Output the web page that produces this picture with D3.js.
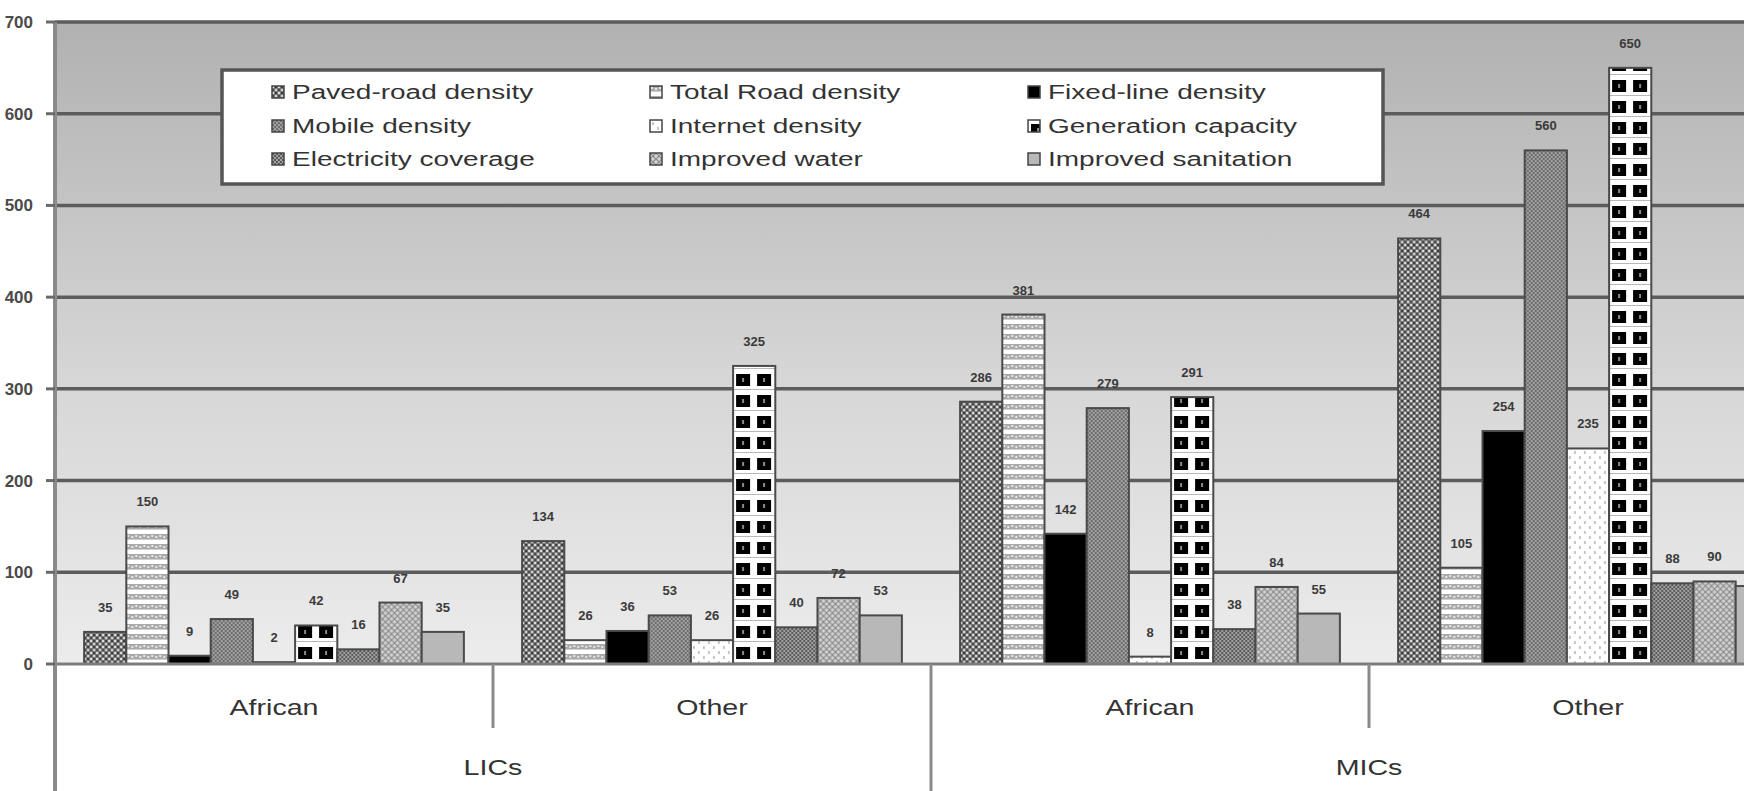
<!DOCTYPE html>
<html><head><meta charset="utf-8">
<script src="https://cdn.jsdelivr.net/npm/d3@7"></script>
<style>
html,body{margin:0;padding:0;background:#fff;overflow:hidden}
svg{display:block;font-family:"Liberation Sans",Arial,sans-serif}
</style>
</head><body>
<svg id="c" width="1744" height="791"></svg>
<script>
// ---------- data ----------
const subGroups = ["African", "Other", "African", "Other"];
const incomeGroups = ["LICs", "MICs"];
const seriesNames = [
  "Paved-road density", "Total Road density", "Fixed-line density",
  "Mobile density", "Internet density", "Generation capacity",
  "Electricity coverage", "Improved water", "Improved sanitation"
];
const licAfrican = [35, 150, 9, 49, 2, 42, 16, 67, 35];
const licOther   = [134, 26, 36, 53, 26, 325, 40, 72, 53];
const micAfrican = [286, 381, 142, 279, 8, 291, 38, 84, 55];
const micOther   = [464, 105, 254, 560, 235, 650, 88, 90, 85];
const yTicks = [0, 100, 200, 300, 400, 500, 600, 700];

const groupValues = [licAfrican, licOther, micAfrican, micOther];

// ---------- layout ----------
const W = 1744, H = 791;
const left = 55, groupW = 438;
const svg = d3.select("#c");
const defs = svg.append("defs");

const x0 = d3.scaleBand().domain(d3.range(subGroups.length))
  .range([left, left + groupW * subGroups.length]).padding(0);
const x1 = d3.scaleBand().domain(seriesNames)
  .range([0, x0.bandwidth()]).paddingInner(0).paddingOuter(0.69);
const y = d3.scaleLinear().domain([0, 700]).range([664, 22]);

// background gradient
const grad = defs.append("linearGradient").attr("id", "bg")
  .attr("x1", 0).attr("y1", 0).attr("x2", 0).attr("y2", 1);
grad.append("stop").attr("offset", "0%").attr("stop-color", "#b1b1b1");
grad.append("stop").attr("offset", "55%").attr("stop-color", "#d6d6d6");
grad.append("stop").attr("offset", "100%").attr("stop-color", "#ececec");

svg.append("rect").attr("x", left).attr("y", y(700))
  .attr("width", W - left).attr("height", y(0) - y(700))
  .attr("fill", "url(#bg)");

// patterns
function buildPattern(id, s, ox, oy) {
  const p = defs.append("pattern").attr("id", id)
    .attr("patternUnits", "userSpaceOnUse").attr("x", ox).attr("y", oy);
  const r = (x, yy, w, h, f) => p.append("rect").attr("x", x).attr("y", yy)
    .attr("width", w).attr("height", h).attr("fill", f);
  switch (s) {
    case 0: p.attr("width", 6).attr("height", 6);
      r(0,0,6,6,"#7a7a7a"); r(0,0,2,2,"#e2e2e2"); r(3,3,2,2,"#d4d4d4");
      r(3,0,2,2,"#3c3c3c"); r(0,3,2,2,"#4a4a4a"); break;
    case 1: p.attr("width", 8).attr("height", 10);
      r(0,0,8,10,"#ffffff"); r(0,0,8,5,"#a9a9a9");
      r(1,1,2,2,"#e6e6e6"); r(5,2,2,2,"#e6e6e6"); r(0,5,8,1,"#d0d0d0"); break;
    case 2: p.attr("width", 4).attr("height", 4); r(0,0,4,4,"#000"); break;
    case 3: p.attr("width", 4).attr("height", 4);
      r(0,0,4,4,"#a0a0a0"); r(0,0,2,2,"#6e6e6e"); r(2,2,2,2,"#6e6e6e"); break;
    case 4: p.attr("width", 10).attr("height", 10);
      r(0,0,10,10,"#ffffff"); r(2,2,2,3,"#c6c6c6"); r(7,7,2,3,"#c6c6c6"); break;
    case 5: p.attr("width", 21).attr("height", 21);
      r(0,0,21,21,"#ffffff"); r(3,4,14,12,"#000"); r(9,8,2,4,"#8a8a8a");
      r(0,19,21,1,"#b8b8b8"); break;
    case 6: p.attr("width", 4).attr("height", 4);
      r(0,0,4,4,"#a2a2a2"); r(0,0,2,2,"#5a5a5a"); r(2,2,2,2,"#5a5a5a"); break;
    case 7: p.attr("width", 6).attr("height", 6);
      r(0,0,6,6,"#d2d2d2");
      p.append("path").attr("d","M0,0L6,6M6,0L0,6").attr("stroke","#8a8a8a").attr("stroke-width",1.2); break;
    case 8: p.attr("width", 4).attr("height", 4); r(0,0,4,4,"#b8b8b8"); break;
  }
}

// gridlines
svg.append("g").selectAll("line").data(yTicks.filter(t => t > 0)).join("line")
  .attr("x1", left).attr("x2", W).attr("y1", d => y(d)).attr("y2", d => y(d))
  .attr("stroke", "#5c5c5c").attr("stroke-width", 3.5);

// bars
const bars = svg.append("g");
groupValues.forEach((vals, g) => {
  vals.forEach((v, i) => {
    const bx = x0(g) + x1(seriesNames[i]);
    const id = `pat-${g}-${i}`;
    buildPattern(id, i, bx, y(0));
    bars.append("rect")
      .attr("x", bx).attr("y", y(v))
      .attr("width", x1.bandwidth()).attr("height", y(0) - y(v))
      .attr("fill", `url(#${id})`)
      .attr("stroke", "#4a4a4a").attr("stroke-width", 2);
    const cx = bx + x1.bandwidth() / 2;
    if (cx + 14 < W) {
      bars.append("text")
        .attr("x", cx).attr("y", y(v) - 20)
        .attr("text-anchor", "middle").attr("font-size", 13).attr("font-weight", "bold")
        .attr("fill", "#3a3a3a").text(v);
    }
  });
});

// baseline
svg.append("line").attr("x1", left).attr("x2", W).attr("y1", y(0)).attr("y2", y(0))
  .attr("stroke", "#7c7c7c").attr("stroke-width", 3);

// y axis
svg.append("line").attr("x1", left).attr("x2", left).attr("y1", y(700)).attr("y2", H)
  .attr("stroke", "#8a8a8a").attr("stroke-width", 4);
svg.append("g").selectAll("line").data(yTicks).join("line")
  .attr("x1", left - 9).attr("x2", left).attr("y1", d => y(d)).attr("y2", d => y(d))
  .attr("stroke", "#6a6a6a").attr("stroke-width", 3);
svg.append("g").selectAll("text").data(yTicks).join("text")
  .attr("x", 33).attr("y", d => Math.max(y(d) + 6, 15)).attr("text-anchor", "end")
  .attr("font-size", 17).attr("font-weight", "bold").attr("fill", "#4a4a4a")
  .text(d => d);

// category axis separators
[1, 3].forEach(g => {
  svg.append("line").attr("x1", x0(g)).attr("x2", x0(g)).attr("y1", y(0)).attr("y2", 728)
    .attr("stroke", "#8a8a8a").attr("stroke-width", 3);
});
svg.append("line").attr("x1", x0(2)).attr("x2", x0(2)).attr("y1", y(0)).attr("y2", H)
  .attr("stroke", "#8a8a8a").attr("stroke-width", 3);

const sx = 1.3;
function stretchedText(cx, cy, txt, size) {
  svg.append("text")
    .attr("transform", `translate(${cx},${cy}) scale(${sx},1)`)
    .attr("text-anchor", "middle").attr("font-size", size).attr("fill", "#333")
    .text(txt);
}
subGroups.forEach((s, g) => stretchedText(x0(g) + x0.bandwidth() / 2, 715, s, 22));
incomeGroups.forEach((s, k) => stretchedText(x0(2 * k) + x0.bandwidth(), 775, s, 22));

// legend
const leg = svg.append("g");
leg.append("rect").attr("x", 222).attr("y", 70).attr("width", 1161).attr("height", 114)
  .attr("fill", "#fff").attr("stroke", "#555").attr("stroke-width", 3.5);
const colX = [272, 650, 1028], rowY = [92, 126, 159];
seriesNames.forEach((name, i) => {
  const mx = colX[i % 3], my = rowY[Math.floor(i / 3)];
  const id = `leg-${i}`;
  buildPattern(id, i, mx, my - 6);
  leg.append("rect").attr("x", mx).attr("y", my - 6).attr("width", 12).attr("height", 12)
    .attr("fill", `url(#${id})`).attr("stroke", "#444").attr("stroke-width", 1.5);
  leg.append("text")
    .attr("transform", `translate(${mx + 20},${my + 7}) scale(1.4,1)`)
    .attr("font-size", 20).attr("fill", "#333").text(name);
});
</script>
</body></html>
